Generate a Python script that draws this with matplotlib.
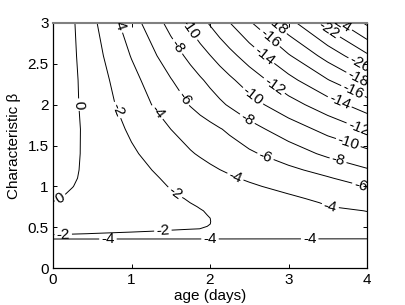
import matplotlib
matplotlib.use("Agg")
import matplotlib.pyplot as plt
import numpy as np

plt.rcParams['font.family'] = ['Liberation Sans', 'DejaVu Sans']

age_days = [0, 0.125, 0.25, 0.375, 0.5, 1.0, 1.5, 1.75, 1.875, 2.0, 2.125,
            2.25, 2.5, 3.0, 3.5, 4.0]
beta = [0, 0.345, 0.365, 0.42, 0.45, 0.48, 0.51, 0.54, 0.57, 0.61, 0.65, 0.7,
        0.75, 0.8, 0.85, 0.9, 1.0, 1.1, 1.2, 1.4, 1.7, 2.0, 2.3, 2.6, 3.0]

# field values, one row per beta value
row_000 = [-5.0] * 16
row_0345 = [-5.0] * 16
row_0365 = [-3.0, -3.0, -3.0, -3.0, -3.0, -3.05, -3.1, -3.1, -3.12, -3.15, -3.15, -3.15, -3.2, -3.25, -3.3, -3.35]
row_042 = [-1.75, -1.82, -1.90, -1.97, -2.03, -2.22, -2.41, -2.50, -2.55, -2.60, -2.65, -2.69, -2.79, -2.98, -3.16, -3.35]
row_045 = [-1.50, -1.55, -1.60, -1.64, -1.69, -1.89, -2.11, -2.23, -2.29, -2.36, -2.42, -2.49, -2.62, -2.87, -3.13, -3.38]
row_048 = [-1.30, -1.35, -1.39, -1.44, -1.49, -1.67, -1.86, -1.955, -2.003, -2.085, -2.17, -2.25, -2.41, -2.74, -3.07, -3.40]
row_051 = [-1.12, -1.18, -1.23, -1.29, -1.34, -1.56, -1.79, -1.90, -1.955, -2.018, -2.11, -2.20, -2.38, -2.74, -3.10, -3.45]
row_054 = [-0.97, -1.03, -1.10, -1.16, -1.23, -1.48, -1.74, -1.87, -1.93, -1.997, -2.09, -2.18, -2.37, -2.75, -3.12, -3.50]
row_057 = [-0.83, -0.90, -0.98, -1.05, -1.12, -1.41, -1.70, -1.85, -1.92, -1.993, -2.09, -2.19, -2.38, -2.77, -3.16, -3.55]
row_061 = [-0.66, -0.74, -0.83, -0.91, -0.99, -1.33, -1.66, -1.83, -1.92, -1.998, -2.10, -2.21, -2.41, -2.83, -3.24, -3.65]
row_065 = [-0.50, -0.60, -0.69, -0.79, -0.88, -1.26, -1.64, -1.83, -1.93, -2.03, -2.14, -2.25, -2.47, -2.92, -3.36, -3.80]
row_070 = [-0.32, -0.43, -0.54, -0.65, -0.76, -1.20, -1.63, -1.85, -1.96, -2.08, -2.20, -2.32, -2.57, -3.06, -3.55, -4.04]
row_075 = [-0.16, -0.29, -0.41, -0.54, -0.66, -1.16, -1.66, -1.91, -2.04, -2.19, -2.34, -2.48, -2.78, -3.37, -3.96, -4.34]
row_080 = [-0.03, -0.17, -0.31, -0.45, -0.59, -1.16, -1.72, -2.005, -2.15, -2.31, -2.46, -2.62, -2.92, -3.53, -4.13, -4.69]
row_085 = [0.08, -0.04, -0.20, -0.36, -0.52, -1.15, -1.78, -2.10, -2.27, -2.43, -2.59, -2.75, -3.07, -3.72, -4.37, -5.03]
row_090 = [0.20, 0.04, -0.13, -0.30, -0.48, -1.18, -1.89, -2.23, -2.41, -2.58, -2.75, -2.92, -3.27, -3.96, -4.67, -5.38]
row_100 = [0.42, 0.22, 0.02, -0.19, -0.40, -1.23, -2.07, -2.49, -2.70, -2.91, -3.12, -3.33, -3.75, -4.53, -5.29, -6.05]
row_110 = [0.62, 0.37, 0.12, -0.12, -0.36, -1.30, -2.27, -2.78, -3.03, -3.29, -3.54, -3.80, -4.24, -5.04, -5.84, -6.96]
row_120 = [0.78, 0.48, 0.19, -0.10, -0.36, -1.43, -2.53, -3.11, -3.40, -3.70, -3.98, -4.22, -4.68, -5.59, -6.66, -7.83]
row_140 = [0.99, 0.63, 0.27, -0.08, -0.42, -1.75, -3.12, -3.85, -4.18, -4.50, -4.80, -5.10, -5.70, -7.00, -8.40, -9.44]
row_170 = [1.23, 0.79, 0.35, -0.09, -0.53, -2.28, -4.00, -4.80, -5.15, -5.50, -5.90, -6.30, -7.30, -9.00, -10.60, -12.20]
row_200 = [1.42, 0.88, 0.34, -0.20, -0.74, -2.90, -5.05, -6.10, -6.63, -7.15, -7.68, -8.20, -9.25, -11.20, -13.10, -15.00]
row_230 = [1.60, 0.98, 0.35, -0.28, -0.90, -3.40, -5.90, -7.15, -7.78, -8.40, -9.03, -9.65, -10.90, -13.40, -15.90, -18.40]
row_260 = [1.76, 1.03, 0.29, -0.44, -1.17, -4.10, -7.03, -8.50, -9.23, -9.96, -10.70, -11.43, -12.89, -15.82, -18.75, -21.68]
row_300 = [1.98, 1.10, 0.21, -0.68, -1.56, -5.10, -8.64, -10.41, -11.30, -12.18, -13.07, -13.95, -15.72, -19.26, -22.80, -26.34]

levels = [-26, -24, -22, -20, -18, -16, -14, -12, -10, -8, -6, -4, -2, 0]

Z = np.array([row_000, row_0345, row_0365, row_042, row_045, row_048, row_051,
              row_054, row_057, row_061, row_065, row_070, row_075, row_080,
              row_085, row_090, row_100, row_110, row_120, row_140, row_170,
              row_200, row_230, row_260, row_300])

# where the contour labels sit (layout)
label_spots = [
    (0.33, 2.0), (0.09, 0.86),
    (0.81, 1.93), (1.56, 0.93), (1.40, 0.455), (0.13, 0.41),
    (0.81, 2.97), (1.32, 1.90), (2.32, 1.11), (3.53, 0.75),
    (0.70, 0.356), (2.0, 0.356), (3.27, 0.358),
    (1.64, 2.06), (2.70, 1.35), (3.91, 0.98),
    (1.55, 2.69), (2.45, 1.79), (3.62, 1.28),
    (1.72, 2.91), (2.51, 2.06), (3.76, 1.53),
    (2.78, 2.18), (3.87, 1.66),
    (2.65, 2.56), (3.62, 1.96),
    (2.74, 2.79), (3.78, 2.08),
    (2.85, 2.97), (3.87, 2.30),
    (3.87, 2.43),
    (3.50, 2.89),
    (3.63, 2.98),
]

fig = plt.figure(figsize=(4.06, 3.05), dpi=100)
ax = fig.add_axes([53 / 406, 37 / 305, 314 / 406, 245 / 305])

cs = ax.contour(age_days, beta, Z, levels=levels, colors='k',
                linewidths=0.7, linestyles='solid')
ax.clabel(cs, levels, inline=True, fmt='%d', fontsize=11,
          manual=label_spots, inline_spacing=2)

ax.set_xlim(0, 4)
ax.set_ylim(0, 3)
ax.set_xticks([0, 1, 2, 3, 4])
ax.set_xticklabels(['0', '1', '2', '3', '4'])
ax.set_yticks([0, 0.5, 1, 1.5, 2, 2.5, 3])
ax.set_yticklabels(['0', '0.5', '1', '1.5', '2', '2.5', '3'])
ax.tick_params(direction='in', top=True, right=True, length=3, width=0.7,
               labelsize=11)
ax.tick_params(axis='x', pad=3.5)
ax.tick_params(axis='y', pad=3)
for side in ['left', 'bottom', 'right']:
    ax.spines[side].set_linewidth(0.9)
ax.spines['top'].set_color('0.5')
ax.spines['top'].set_linewidth(1.5)

ax.set_xlabel('age (days)', fontsize=11, labelpad=1.5)
ax.set_ylabel('Characteristic \u03b2', fontsize=11, labelpad=5)

fig.savefig('out.png', dpi=100)
